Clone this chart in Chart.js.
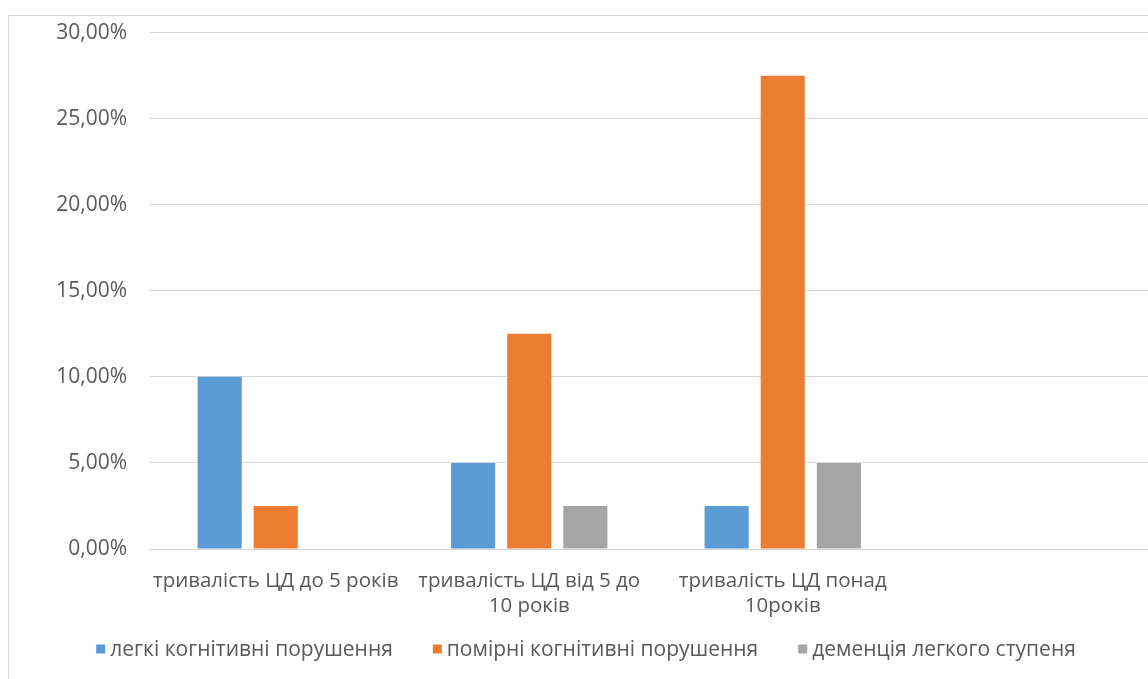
<!DOCTYPE html>
<html>
<head>
<meta charset="utf-8">
<script src="https://cdn.jsdelivr.net/npm/chart.js@4/dist/chart.umd.min.js"></script>
<style>
  html, body { margin: 0; padding: 0; background: #fff; overflow: hidden; width: 1148px; height: 679px; }
  #frame { position: absolute; left: 8px; top: 15px; width: 1156px; height: 700px; border: 1px solid #d9d9d9; box-sizing: border-box; }
  #c { position: absolute; left: 0; top: -18px; width: 1154px; height: 704px; }
</style>
</head>
<body>
<div id="frame"><canvas id="c" width="1154" height="704"></canvas></div>
<script>
// Duration of disease groups (last slot is an empty category)
const categories = [
  'тривалість ЦД до 5 років',
  ['тривалість ЦД від 5 до', '10 років'],
  ['тривалість ЦД понад', '10років'],
  ''
];
const seriesNames = ['легкі когнітивні порушення', 'помірні когнітивні порушення', 'деменція легкого ступеня'];
const mildImpairment = [0.10, 0.05, 0.025, null];
const moderateImpairment = [0.025, 0.125, 0.275, null];
const mildDementia = [0, 0.025, 0.05, null];
const yTicks = [0, 0.05, 0.10, 0.15, 0.20, 0.25, 0.30];

const colors = ['#5B9BD5', '#ED7D31', '#A5A5A5'];
const textColor = '#595959';
const fontFamily = '"Open Sans", "Noto Sans", sans-serif';

const fmtPct = v => (v * 100).toFixed(2).replace('.', ',') + '%';

// Legend row centred under the plot: small square swatch + series name
const bottomLegend = {
  id: 'bottomLegend',
  afterDraw(chart) {
    const ctx = chart.ctx;
    const fontSize = 21, box = 9, gap = 5, spacing = 40;
    const y = 651;
    ctx.save();
    ctx.font = fontSize + 'px ' + fontFamily;
    ctx.textBaseline = 'middle';
    const items = chart.data.datasets.map(ds => ({
      text: ds.label, color: ds.backgroundColor, w: ctx.measureText(ds.label).width
    }));
    const total = items.reduce((s, it) => s + box + gap + it.w, 0) + spacing * (items.length - 1);
    let x = chart.width / 2 - total / 2;
    items.forEach(it => {
      ctx.fillStyle = it.color;
      ctx.fillRect(x, y - box / 2, box, box);
      ctx.fillStyle = textColor;
      ctx.fillText(it.text, x + box + gap, y + 1);
      x += box + gap + it.w + spacing;
    });
    ctx.restore();
  }
};

new Chart(document.getElementById('c'), {
  type: 'bar',
  data: {
    labels: categories,
    datasets: [mildImpairment, moderateImpairment, mildDementia].map((d, i) => ({
      label: seriesNames[i],
      data: d,
      backgroundColor: colors[i],
      borderWidth: 0,
      categoryPercentage: 0.664,
      barPercentage: 0.786
    }))
  },
  plugins: [bottomLegend],
  options: {
    responsive: false,
    animation: false,
    layout: { padding: { top: 1, left: 0, right: 0, bottom: 81 } },
    plugins: {
      tooltip: { enabled: false },
      legend: { display: false }
    },
    scales: {
      x: {
        grid: { display: false, drawTicks: false },
        border: { display: false },
        ticks: {
          color: textColor,
          font: { family: fontFamily, size: 20.5, lineHeight: 1.22 },
          padding: 20,
          maxRotation: 0,
          autoSkip: false
        },
        afterFit: s => { s.height = 72; }
      },
      y: {
        min: 0,
        max: 0.30,
        afterBuildTicks: s => { s.ticks = yTicks.map(v => ({ value: v })); },
        grid: { color: '#d9d9d9', lineWidth: 1, drawTicks: false },
        border: { display: false },
        ticks: {
          color: textColor,
          font: { family: fontFamily, size: 21 },
          padding: 22,
          callback: v => fmtPct(v)
        },
        afterFit: s => { s.width = 140; }
      }
    }
  }
});
</script>
</body>
</html>
